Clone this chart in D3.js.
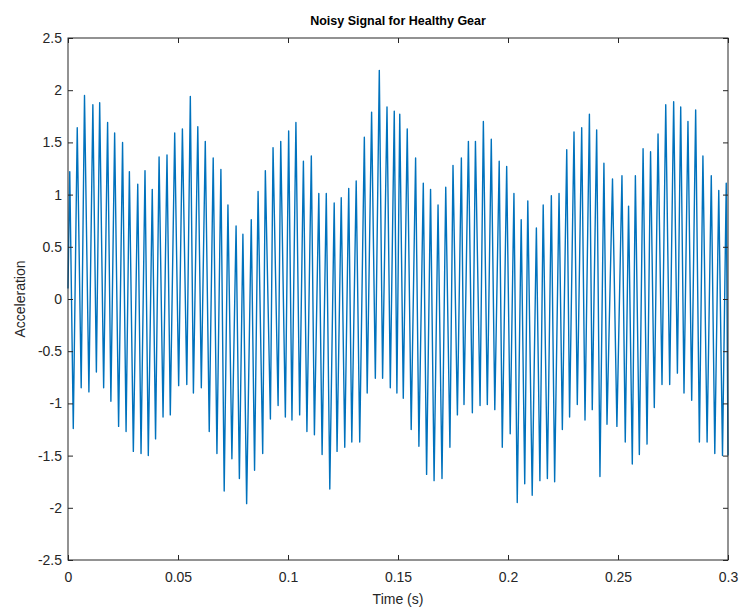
<!DOCTYPE html>
<html>
<head>
<meta charset="utf-8">
<script src="https://cdn.jsdelivr.net/npm/d3@7"></script>
<style>
  body { margin: 0; background: #fff; }
  svg { display: block; font-family: "Liberation Sans", Arial, Helvetica, sans-serif; }
  .axis text { font-size: 14px; fill: #262626; }
  .axis line { stroke: #262626; }
</style>
</head>
<body>
<svg id="chart" width="742" height="608"></svg>
<script>

// Time of each peak / trough (seconds)
var timeS = [
  0.0000, 0.0008, 0.0024, 0.0042, 0.0060, 0.0075, 0.0095, 0.0113, 0.0129, 0.0144,
  0.0162, 0.0180, 0.0195, 0.0212, 0.0230, 0.0248, 0.0264, 0.0279, 0.0297, 0.0317,
  0.0332, 0.0350, 0.0365, 0.0383, 0.0398, 0.0414, 0.0432, 0.0450, 0.0465, 0.0485,
  0.0503, 0.0520, 0.0540, 0.0556, 0.0570, 0.0590, 0.0606, 0.0624, 0.0642, 0.0660,
  0.0677, 0.0695, 0.0710, 0.0727, 0.0745, 0.0764, 0.0779, 0.0795, 0.0812, 0.0833,
  0.0848, 0.0864, 0.0885, 0.0897, 0.0920, 0.0932, 0.0955, 0.0967, 0.0988, 0.1003,
  0.1018, 0.1036, 0.1053, 0.1070, 0.1086, 0.1106, 0.1120, 0.1140, 0.1155, 0.1174,
  0.1190, 0.1210, 0.1223, 0.1242, 0.1258, 0.1276, 0.1290, 0.1310, 0.1326, 0.1347,
  0.1360, 0.1380, 0.1397, 0.1415, 0.1430, 0.1450, 0.1465, 0.1483, 0.1495, 0.1508,
  0.1524, 0.1542, 0.1560, 0.1580, 0.1595, 0.1615, 0.1630, 0.1648, 0.1664, 0.1682,
  0.1700, 0.1717, 0.1736, 0.1750, 0.1770, 0.1788, 0.1800, 0.1820, 0.1838, 0.1852,
  0.1873, 0.1888, 0.1906, 0.1924, 0.1940, 0.1960, 0.1974, 0.1994, 0.2010, 0.2027,
  0.2042, 0.2060, 0.2076, 0.2090, 0.2110, 0.2129, 0.2145, 0.2160, 0.2179, 0.2197,
  0.2212, 0.2232, 0.2247, 0.2267, 0.2280, 0.2300, 0.2315, 0.2335, 0.2350, 0.2370,
  0.2383, 0.2403, 0.2418, 0.2436, 0.2450, 0.2475, 0.2495, 0.2518, 0.2533, 0.2548,
  0.2565, 0.2579, 0.2597, 0.2614, 0.2632, 0.2648, 0.2665, 0.2682, 0.2700, 0.2717,
  0.2735, 0.2753, 0.2770, 0.2785, 0.2800, 0.2818, 0.2835, 0.2853, 0.2870, 0.2886,
  0.2905, 0.2924, 0.2940, 0.2958, 0.2975, 0.2992, 0.3000
];

// Acceleration at those times
var accel = [
   0.10,  1.22, -1.24,  1.64, -0.85,  1.95, -0.89,  1.86, -0.70,  1.88,
  -0.85,  1.69, -0.98,  1.59, -1.22,  1.50, -1.27,  1.22, -1.46,  1.10,
  -1.48,  1.23, -1.50,  1.05, -1.34,  1.36, -1.13,  1.38, -1.11,  1.59,
  -0.83,  1.63, -0.82,  1.94, -0.90,  1.65, -0.85,  1.51, -1.27,  1.35,
  -1.48,  1.24, -1.84,  0.90, -1.53,  0.70, -1.72,  0.62, -1.96,  0.76,
  -1.64,  1.03, -1.48,  1.23, -1.15,  1.45, -1.02,  1.51, -1.13,  1.61,
  -1.16,  1.69, -1.11,  1.32, -1.27,  1.37, -1.30,  1.01, -1.49,  1.01,
  -1.82,  0.92, -1.46,  0.97, -1.42,  1.06, -1.37,  1.13, -1.37,  1.55,
  -0.90,  1.79, -0.76,  2.19, -0.76,  1.84, -0.85,  1.80, -0.90,  1.77,
  -0.95,  1.63, -1.25,  1.35, -1.41,  1.11, -1.68,  1.05, -1.74,  0.90,
  -1.72,  1.07, -1.42,  1.28, -1.11,  1.35, -1.01,  1.51, -1.09,  1.51,
  -1.02,  1.70, -1.01,  1.53, -1.06,  1.32, -1.42,  1.27, -1.29,  1.01,
  -1.95,  0.76, -1.77,  0.94, -1.88,  0.68, -1.74,  0.90, -1.72,  0.99,
  -1.75,  1.01, -1.25,  1.43, -1.13,  1.60, -1.01,  1.64, -1.16,  1.77,
  -1.06,  1.62, -1.70,  1.30, -1.20,  1.15, -1.22,  1.18, -1.37,  0.89,
  -1.58,  1.18, -1.49,  1.44, -1.39,  1.41, -1.04,  1.58, -0.82,  1.86,
  -0.82,  1.89, -0.71,  1.84, -0.90,  1.70, -0.97,  1.81, -1.37,  1.37,
  -1.37,  1.18, -1.48,  1.04, -1.50,  1.11, -1.50
];

var xTicks = [0, 0.05, 0.1, 0.15, 0.2, 0.25, 0.3];
var yTicks = [-2.5, -2, -1.5, -1, -0.5, 0, 0.5, 1, 1.5, 2, 2.5];

// plot box
var margin = {top: 38, right: 14, bottom: 48, left: 68};
var width = 742 - margin.left - margin.right;
var height = 608 - margin.top - margin.bottom;

var svg = d3.select("#chart");
var g = svg.append("g")
  .attr("transform", "translate(" + margin.left + "," + margin.top + ")");

var x = d3.scaleLinear().domain([0, 0.3]).range([0, width]);
var y = d3.scaleLinear().domain([-2.5, 2.5]).range([height, 0]);

// the signal
var pts = d3.zip(timeS, accel);
var line = d3.line()
  .x(function(d) { return x(d[0]); })
  .y(function(d) { return y(d[1]); });

g.append("path")
  .datum(pts)
  .attr("fill", "none")
  .attr("stroke", "#0072BD")
  .attr("stroke-width", 1.4)
  .attr("stroke-linejoin", "round")
  .attr("d", line);

// axes, ticks pointing inward like matlab
var fmt = function(d) { return String(d); };

g.append("g").attr("class", "axis")
  .attr("transform", "translate(0," + height + ")")
  .call(d3.axisBottom(x).tickValues(xTicks).tickFormat(fmt).tickSize(-5).tickSizeOuter(0).tickPadding(12))
  .call(function(a) { a.select(".domain").remove(); });

g.append("g").attr("class", "axis")
  .call(d3.axisLeft(y).tickValues(yTicks).tickFormat(fmt).tickSize(-5).tickSizeOuter(0).tickPadding(6))
  .call(function(a) { a.select(".domain").remove(); });

g.append("g").attr("class", "axis")
  .call(d3.axisTop(x).tickValues(xTicks).tickFormat("").tickSize(-5).tickSizeOuter(0))
  .call(function(a) { a.select(".domain").remove(); });

g.append("g").attr("class", "axis")
  .attr("transform", "translate(" + width + ",0)")
  .call(d3.axisRight(y).tickValues(yTicks).tickFormat("").tickSize(-5).tickSizeOuter(0))
  .call(function(a) { a.select(".domain").remove(); });

// box
g.append("rect")
  .attr("width", width)
  .attr("height", height)
  .attr("fill", "none")
  .attr("stroke", "#262626")
  .attr("stroke-width", 1);

// title and labels
svg.append("text")
  .attr("x", margin.left + width / 2)
  .attr("y", 25)
  .attr("text-anchor", "middle")
  .attr("font-size", 12.5)
  .attr("font-weight", "bold")
  .attr("fill", "#000")
  .text("Noisy Signal for Healthy Gear");

svg.append("text")
  .attr("x", margin.left + width / 2)
  .attr("y", 604)
  .attr("text-anchor", "middle")
  .attr("font-size", 14)
  .attr("fill", "#262626")
  .text("Time (s)");

svg.append("text")
  .attr("transform", "translate(25," + (margin.top + height / 2) + ") rotate(-90)")
  .attr("text-anchor", "middle")
  .attr("font-size", 14)
  .attr("fill", "#262626")
  .text("Acceleration");

</script>
</body>
</html>
